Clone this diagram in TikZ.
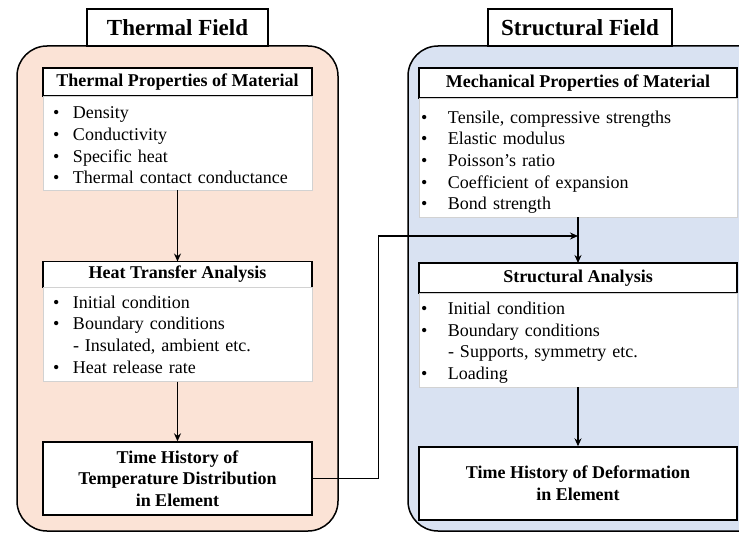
\documentclass[tikz,border=0pt]{standalone}
\usepackage{fontspec}
\setmainfont{Liberation Serif}
\usetikzlibrary{arrows.meta, positioning}

\definecolor{thermFill}{RGB}{251,227,214}
\definecolor{structFill}{RGB}{217,226,242}

\tikzstyle{panel} = [rectangle, rounded corners=30pt, draw=black, line width=1.5pt]
\tikzstyle{title} = [rectangle, draw=black, fill=white, line width=1.4pt, minimum height=37pt,
font=\fontsize{23}{27}\selectfont\bfseries, inner sep=0pt]
\tikzstyle{header} = [rectangle, draw=black, fill=white, line width=1.4pt, outer sep=0pt,
font=\fontsize{18}{22}\selectfont\bfseries, inner sep=0pt]
\tikzstyle{list} = [rectangle, draw=gray!35, fill=white, outer sep=0pt, align=left,
font=\fontsize{18}{21.7}\selectfont, inner ysep=0pt]
\tikzstyle{result} = [rectangle, draw=black, fill=white, line width=1.4pt, align=center,
font=\fontsize{18}{21.7}\selectfont\bfseries, inner sep=0pt]
\tikzstyle{arrow} = [line width=1.3pt, ->, >={Stealth[length=8pt, width=7pt]}]

\newcommand{\itm}[2][20pt]{\makebox[#1][l]{\textbullet}#2}

\begin{document}
\begin{tikzpicture}[x=1pt, y=-1pt]

    \clip (0,0) rectangle (739,535);
    \fill[white] (0,0) rectangle (739,535);

    % panels
    \draw[panel, fill=thermFill] (17,46) rectangle (338,531);
    \draw[panel, fill=structFill] (408,46) rectangle (770,531);

    \node (thermTitle) [title, minimum width=181pt] at (177.5,27.5) {Thermal Field};
    \node (structTitle) [title, minimum width=184pt] at (580,27.5) {Structural Field};

    % thermal field
    \node (thermProp) [header, minimum width=269pt, minimum height=28pt] at (177.5,82) {Thermal Properties of Material};
    \node (thermList) [list, below=0pt of thermProp, minimum width=269pt, minimum height=94pt, text width=249pt, inner xsep=10pt]
        {\itm{\rule{0pt}{17pt}Density}\\ \itm{Conductivity}\\ \itm{Specific heat}\\ \itm{Thermal contact conductance}};

    \node (heatTrans) [header, minimum width=269pt, minimum height=26pt] at (177.5,274.5) {Heat Transfer Analysis};
    \node (heatList) [list, below=0pt of heatTrans, minimum width=269pt, minimum height=94pt, text width=249pt, inner xsep=10pt]
        {\itm{Initial condition}\\ \itm{Boundary conditions}\\ \hspace*{20pt}- Insulated, ambient etc.\\ \itm{Heat release rate}};

    \node (tempHist) [result, minimum width=269pt, minimum height=73pt] at (177.5,478.5)
        {Time History of\\ Temperature Distribution\\ in Element};

    % structural field
    \node (mechProp) [header, minimum width=318pt, minimum height=30pt] at (578,83) {Mechanical Properties of Material};
    \node (mechList) [list, below=0pt of mechProp, minimum width=318pt, minimum height=119pt, text width=314pt, inner xsep=2pt]
        {\itm[27pt]{\rule{0pt}{22pt}Tensile, compressive strengths}\\ \itm[27pt]{Elastic modulus}\\ \itm[27pt]{Poisson's ratio}\\
         \itm[27pt]{Coefficient of expansion}\\ \itm[27pt]{Bond strength}};

    \node (structAna) [header, minimum width=318pt, minimum height=30pt] at (578,278) {Structural Analysis};
    \node (structList) [list, below=0pt of structAna, minimum width=318pt, minimum height=94pt, text width=314pt, inner xsep=2pt]
        {\itm[27pt]{\rule{0pt}{18pt}Initial condition}\\ \itm[27pt]{Boundary conditions}\\ \hspace*{27pt}- Supports, symmetry etc.\\ \itm[27pt]{Loading}};

    \node (deformHist) [result, minimum width=318pt, minimum height=73pt] at (578,483.5)
        {Time History of Deformation\\ in Element};

    \coordinate (joint) at (578,236);

    \draw[arrow] (thermList) -- (heatTrans);
    \draw[arrow] (heatList) -- (tempHist);
    \draw[arrow] (mechList) -- (structAna);
    \draw[arrow] (structList) -- (deformHist);
    \draw[arrow] (tempHist.east) -- ++(66,0) |- (joint);

\end{tikzpicture}
\end{document}
